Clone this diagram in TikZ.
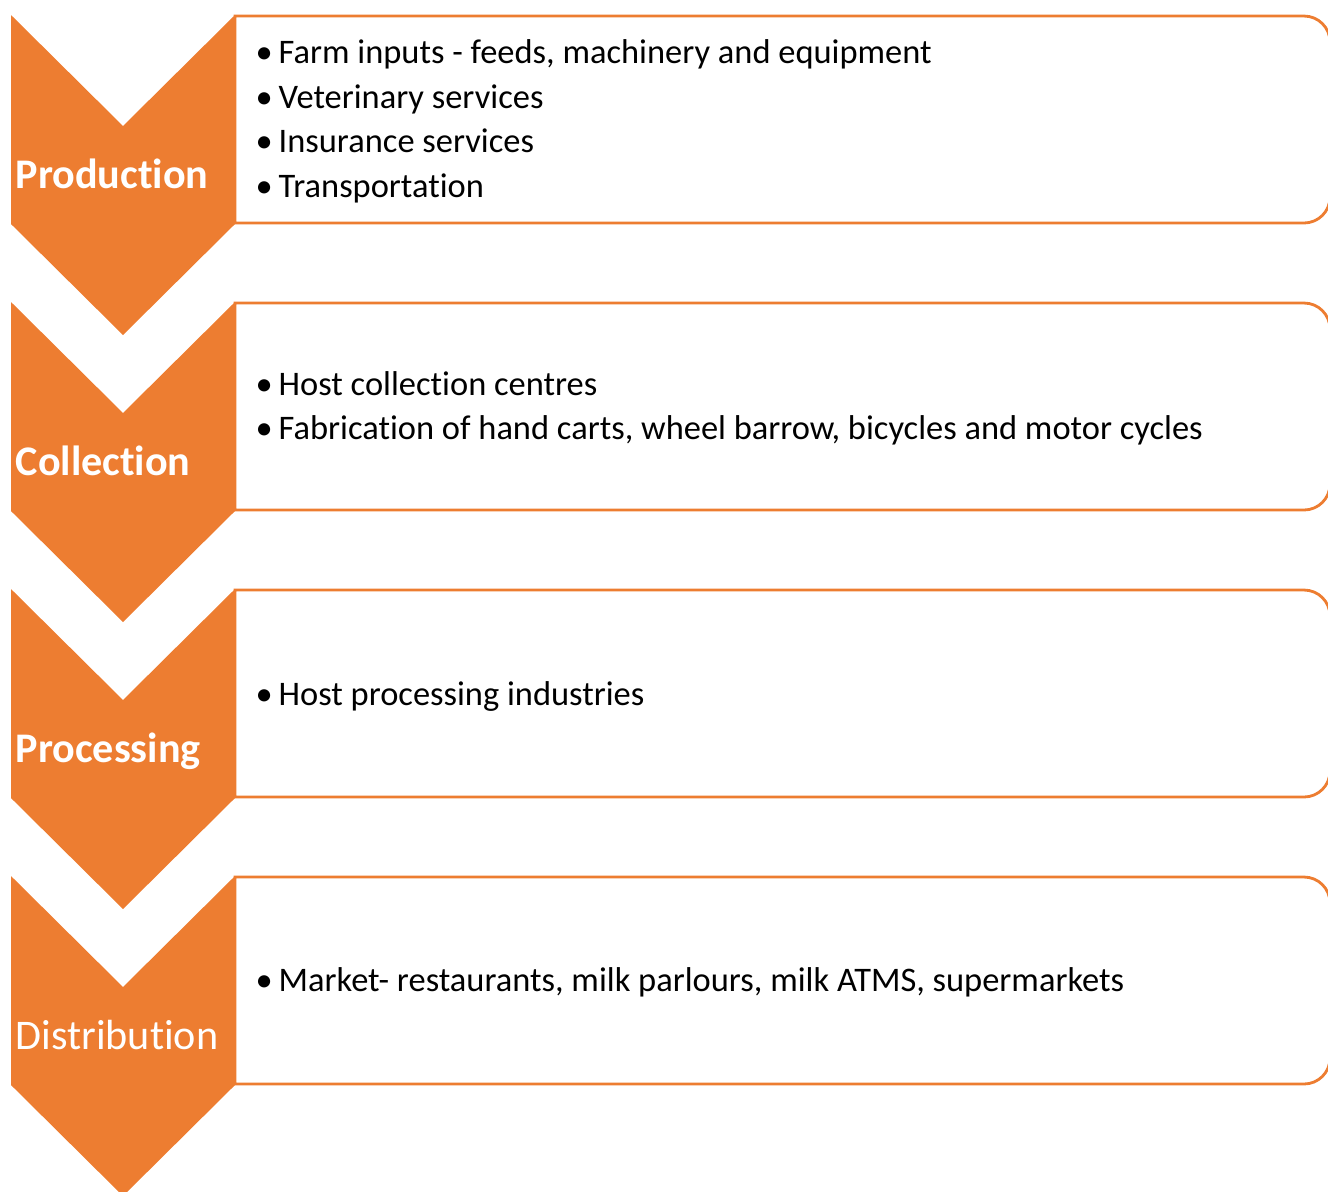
\documentclass[tikz,border=0pt]{standalone}
\usepackage{fontspec}
\setmainfont{Carlito}[Ligatures=NoCommon]
\usepackage{tikz}
\usetikzlibrary{positioning}

\definecolor{chevorange}{RGB}{237,125,49}

\tikzset{
  chevron/.style={fill=chevorange,draw=none},
  itembox/.style={draw=chevorange,line width=0.8pt,fill=white},
  stage/.style={anchor=base west,text=white,inner sep=0pt,font=\fontsize{12}{14}\selectfont},
  item/.style={anchor=base west,inner sep=0pt,font=\fontsize{9.8}{12}\selectfont}
}
\newcommand{\bul}{\makebox[0.23cm][l]{•}}

\begin{document}
\begin{tikzpicture}[x=1cm,y=1cm]
\clip (0,0) rectangle (13.28,-11.91); % page

% boxes, right side rounded
\draw[itembox] (2.35,-0.16) -- (13.04,-0.16) arc (90:0:0.26) -- (13.30,-1.97) arc (0:-90:0.26) -- (2.35,-2.23) -- cycle;
\draw[itembox] (2.35,-3.03) -- (13.04,-3.03) arc (90:0:0.26) -- (13.30,-4.84) arc (0:-90:0.26) -- (2.35,-5.10) -- cycle;
\draw[itembox] (2.35,-5.90) -- (13.04,-5.90) arc (90:0:0.26) -- (13.30,-7.71) arc (0:-90:0.26) -- (2.35,-7.97) -- cycle;
\draw[itembox] (2.35,-8.77) -- (13.04,-8.77) arc (90:0:0.26) -- (13.30,-10.58) arc (0:-90:0.26) -- (2.35,-10.84) -- cycle;

% chevrons
\fill[chevron] (0.11,-0.15) -- (1.23,-1.26) -- (2.35,-0.15) -- (2.35,-2.24) -- (1.23,-3.35) -- (0.11,-2.24) -- cycle;
\fill[chevron] (0.11,-3.02) -- (1.23,-4.13) -- (2.35,-3.02) -- (2.35,-5.11) -- (1.23,-6.22) -- (0.11,-5.11) -- cycle;
\fill[chevron] (0.11,-5.89) -- (1.23,-7.00) -- (2.35,-5.89) -- (2.35,-7.98) -- (1.23,-9.09) -- (0.11,-7.98) -- cycle;
\fill[chevron] (0.11,-8.76) -- (1.23,-9.87) -- (2.35,-8.76) -- (2.35,-10.85) -- (1.23,-11.96) -- (0.11,-10.85) -- cycle;

% stage names
\node[stage] (production) at (0.15,-1.88) {\bfseries Production};
\node[stage] (collection) at (0.15,-4.75) {\bfseries Collection};
\node[stage] (processing) at (0.15,-7.62) {\bfseries Processing};
\node[stage] (distribution) at (0.15,-10.49) {Distribution};

% bullet items
\node[item] (prod1) at (2.55,-0.63) {\bul Farm inputs - feeds, machinery and equipment};
\node[item] (prod2) at (2.55,-1.08) {\bul Veterinary services};
\node[item] (prod3) at (2.55,-1.52) {\bul Insurance services};
\node[item] (prod4) at (2.55,-1.97) {\bul Transportation};

\node[item] (coll1) at (2.55,-3.95) {\bul Host collection centres};
\node[item] (coll2) at (2.55,-4.39) {\bul Fabrication of hand carts, wheel barrow, bicycles and motor cycles};

\node[item] (proc1) at (2.55,-7.05) {\bul Host processing industries};

\node[item] (dist1) at (2.55,-9.91) {\bul Market- restaurants, milk parlours, milk ATMS, supermarkets};
\end{tikzpicture}
\end{document}
